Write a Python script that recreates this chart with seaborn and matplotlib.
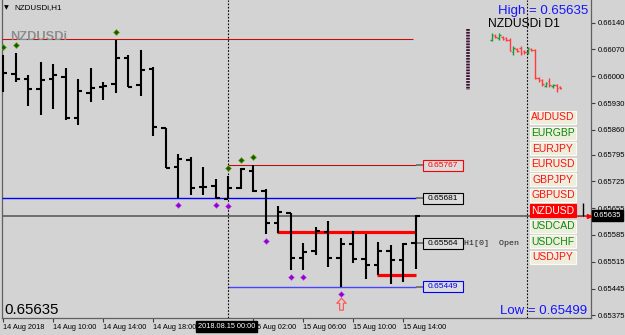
import numpy as np
import matplotlib
matplotlib.use("Agg")
import matplotlib.pyplot as plt
import seaborn as sns
from matplotlib.patches import Rectangle
from matplotlib.lines import Line2D
from matplotlib.path import Path
import matplotlib.transforms as mtransforms

# ---------------- data ----------------
x_tick_bars = [0, 4, 8, 12, 20, 24, 28, 32]
x_tick_labels = ["14 Aug 2018", "14 Aug 10:00", "14 Aug 14:00", "14 Aug 18:00",
                 "15 Aug 02:00", "15 Aug 06:00", "15 Aug 10:00", "15 Aug 14:00"]
separator_bar = 18
separator_label = "2018.08.15 00:00"
y_ticks = [0.66140, 0.66070, 0.66000, 0.65930, 0.65860, 0.65795, 0.65725,
           0.65655, 0.65585, 0.65515, 0.65445, 0.65375]

opens = [0.66016, 0.66005, 0.65994, 0.65966, 0.65992, 0.65999, 0.65891, 0.65957,
         0.65973, 0.65980, 0.66047, 0.65976, 0.66018, 0.65864, 0.65762, 0.65781,
         0.65711, 0.65714, 0.65680, 0.65707, 0.65753, 0.65701, 0.65616, 0.65643,
         0.65526, 0.65544, 0.65592, 0.65526, 0.65561, 0.65522, 0.65506, 0.65543,
         0.65520, 0.65564]
highs = [0.66056, 0.66062, 0.66003, 0.66038, 0.66031, 0.66021, 0.65992, 0.66021,
         0.65986, 0.66095, 0.66056, 0.66069, 0.66025, 0.65866, 0.65797, 0.65788,
         0.65762, 0.65731, 0.65740, 0.65759, 0.65767, 0.65704, 0.65661, 0.65643,
         0.65565, 0.65607, 0.65622, 0.65576, 0.65596, 0.65587, 0.65567, 0.65559,
         0.65563, 0.65637]
lows = [0.65960, 0.65986, 0.65922, 0.65899, 0.65914, 0.65886, 0.65873, 0.65933,
        0.65938, 0.65957, 0.65973, 0.65948, 0.65844, 0.65759, 0.65681, 0.65690,
        0.65690, 0.65681, 0.65680, 0.65705, 0.65698, 0.65588, 0.65591, 0.65493,
        0.65493, 0.65533, 0.65501, 0.65449, 0.65511, 0.65469, 0.65480, 0.65456,
        0.65463, 0.65495]
closes = [0.66009, 0.65994, 0.65967, 0.65990, 0.66003, 0.65890, 0.65961, 0.65968,
          0.65975, 0.66047, 0.65973, 0.66016, 0.65867, 0.65759, 0.65784, 0.65709,
          0.65711, 0.65681, 0.65707, 0.65758, 0.65700, 0.65616, 0.65646, 0.65526,
          0.65541, 0.65595, 0.65526, 0.65561, 0.65522, 0.65506, 0.65543, 0.65520,
          0.65561, 0.65635]

fractal_up_bars = [0, 1, 9, 18, 19, 20]
fractal_down_bars = [14, 17, 18, 21, 23, 24, 27]
arrow_bar = 27

top_level = 0.66097
day_high = 0.65767
prev_low = 0.65681
current_price = 0.65635
h1_open = 0.65564
day_low = 0.65449
zone_upper = 0.65593
zone_lower = 0.65480
zone_upper_start = 22
zone_lower_start = 30

high_text = "High = 0.65635"
low_text = "Low = 0.65499"
d1_title = "NZDUSDi D1"

pairs = ["AUDUSD", "EURGBP", "EURJPY", "EURUSD", "GBPJPY", "GBPUSD",
         "NZDUSD", "USDCAD", "USDCHF", "USDJPY"]
pair_dir = ["down", "up", "down", "down", "down", "down", "active", "up", "up", "down"]

mini_open = [0.66095, 0.66105, 0.66100, 0.66103, 0.66100, 0.66095, 0.66063, 0.66071,
             0.66074, 0.66066, 0.66063, 0.66071, 0.66069, 0.65995, 0.65990, 0.65975,
             0.65988, 0.65975, 0.65977, 0.65972]
mini_close = [0.66108, 0.66103, 0.66108, 0.66097, 0.66095, 0.66066, 0.66074, 0.66066,
              0.66061, 0.66063, 0.66074, 0.66069, 0.65995, 0.65990, 0.65980, 0.65982,
              0.65977, 0.65977, 0.65969, 0.65969]
mini_high = [0.66113, 0.66110, 0.66113, 0.66105, 0.66103, 0.66100, 0.66079, 0.66074,
             0.66079, 0.66069, 0.66076, 0.66074, 0.66071, 0.65998, 0.65993, 0.65985,
             0.65995, 0.65980, 0.65980, 0.65975]
mini_low = [0.66092, 0.66100, 0.66095, 0.66095, 0.66092, 0.66066, 0.66056, 0.66063,
            0.66056, 0.66058, 0.66058, 0.66066, 0.65993, 0.65985, 0.65975, 0.65972,
            0.65972, 0.65969, 0.65959, 0.65967]

# ---------------- style ----------------
sns.set_style("white")
plt.rcParams['font.family'] = ['Liberation Sans', 'DejaVu Sans']
BG = '#d3d3d3'
W, H = 625, 335
PX = 2.6145e-5          # price per pixel
BAR_PX = 12.5           # pixels per bar

fig = plt.figure(figsize=(6.25, 3.35), dpi=100)
fig.patch.set_facecolor(BG)


def fx(px):
    return px / W


def fy(py):
    return 1 - py / H


ax = fig.add_axes([fx(2), fy(318), fx(591) - fx(2), fy(0) - fy(318)])
ax.set_facecolor(BG)
ax.set_xlim(-0.08, -0.08 + 589 / BAR_PX)
ax.set_ylim(0.66140 - (318 - 22.7) * PX, 0.66140 + 22.7 * PX)

# OHLC bars
idx = np.arange(len(opens))
tick = 0.34
ax.vlines(idx, lows, highs, color='black', lw=1.5, capstyle='butt', zorder=5)
ax.hlines(opens, idx - tick, idx, color='black', lw=1.5, capstyle='butt', zorder=5)
ax.hlines(closes, idx, idx + tick, color='black', lw=1.5, capstyle='butt', zorder=5)

last = len(opens) - 1
xmin = ax.get_xlim()[0]
xmax = ax.get_xlim()[1]

# horizontal levels
ax.hlines(top_level, xmin, last - 0.2, color='#bfeff0', lw=2.4, zorder=2)
ax.hlines(top_level, xmin, last - 0.2, color='#e00000', lw=0.9, zorder=3)
ax.hlines(day_high, separator_bar, last, color='#bfeff0', lw=2.4, zorder=2)
ax.hlines(day_high, separator_bar, last, color='#e00000', lw=0.9, zorder=3)
ax.hlines(prev_low, xmin, last, color='#0000ff', lw=1.0, zorder=3)
ax.hlines(day_low, separator_bar, last, color='#4646ff', lw=1.0, zorder=3)
ax.hlines(current_price, xmin, xmax, color='#6e6e6e', lw=1.4, zorder=2)
ax.hlines(zone_upper, zone_upper_start - 0.05, last, color='#ff0000', lw=2.3, zorder=4)
ax.hlines(zone_lower, zone_lower_start - 0.1, last, color='#ff0000', lw=2.3, zorder=4)

# label boxes
box_x0 = last + 0.6
box_w = 3.2
hh = 5.5 * PX
for lvl, col in [(day_high, '#ff0000'), (prev_low, '#000000'),
                 (h1_open, '#000000'), (day_low, '#0000ff')]:
    ax.hlines(lvl, last, box_x0, color='#707070', lw=1.3, zorder=3)
    ax.add_patch(Rectangle((box_x0, lvl - hh), box_w, 2 * hh, facecolor='#dcdcdc',
                           edgecolor=col, lw=0.8, zorder=6))
    ax.text(box_x0 + box_w / 2, lvl, f"{lvl:.5f}", ha='center', va='center',
            fontsize=6, color=col, zorder=7)
ax.text(box_x0 + box_w + 0.05, h1_open, "H1[0]  Open", ha='left', va='center',
        fontsize=6, family='Liberation Mono', color='#202020', zorder=7)

# fractals
up_y = [highs[i] + 8 * PX for i in fractal_up_bars]
dn_y = [lows[i] - 7 * PX for i in fractal_down_bars]
sns.scatterplot(x=fractal_up_bars, y=up_y, marker='D', s=9, color='#006400',
                edgecolor='#9a9a20', linewidth=0.5, ax=ax, zorder=8)
sns.scatterplot(x=fractal_down_bars, y=dn_y, marker='D', s=9, color='#9400d3',
                edgecolor='#c060f0', linewidth=0.4, ax=ax, zorder=8)
up_arrow = Path([(0, 1), (-0.75, 0.2), (-0.3, 0.2), (-0.3, -0.9), (0.3, -0.9),
                 (0.3, 0.2), (0.75, 0.2), (0, 1)],
                [Path.MOVETO] + [Path.LINETO] * 6 + [Path.CLOSEPOLY])
ax.plot([arrow_bar], [lows[arrow_bar] - 17 * PX], marker=up_arrow, ms=9,
        markerfacecolor='none', markeredgecolor='#ff5a5a', markeredgewidth=0.9,
        zorder=8)

# separators
ax.axvline(separator_bar, color='black', lw=0.8, ls=(0, (1.5, 1.5)), zorder=4)
ax.axvline((527 - 3) / BAR_PX, color='black', lw=0.8, ls=(0, (1.5, 1.5)), zorder=4)

# current price arrow and last tick
x_arrow0 = (565 - 3) / BAR_PX
x_arrow1 = (589 - 3) / BAR_PX
ax.plot([x_arrow0, x_arrow1], [current_price, current_price], color='red', lw=0.9,
        ls=(0, (1, 1)), zorder=6)
ax.plot([x_arrow1], [current_price], marker='>', ms=3, color='red', zorder=6)
ax.vlines((583 - 3) / BAR_PX, current_price, current_price + 13 * PX,
          color='black', lw=1.0, zorder=6)

# axes styling
ax.spines['top'].set_visible(False)
for s in ['left', 'bottom', 'right']:
    ax.spines[s].set_color('#606060')
    ax.spines[s].set_linewidth(0.9)
ax.yaxis.tick_right()
ax.set_yticks(y_ticks)
ax.set_yticklabels([f"{v:.5f}" for v in y_ticks])
ax.tick_params(axis='y', right=True, length=3, width=0.8, color='#404040',
               labelsize=5.5, pad=2, labelcolor='black')
ax.set_xticks(x_tick_bars)
ax.set_xticklabels(x_tick_labels)
for lab in ax.get_xticklabels():
    lab.set_horizontalalignment('left')
ax.tick_params(axis='x', bottom=True, length=3, width=0.8, color='#404040',
               labelsize=5.3, pad=1.5, labelcolor='black')
ax.set_xlabel("")
ax.set_ylabel("")

blend_x = mtransforms.blended_transform_factory(ax.transData, ax.transAxes)
ax.text(separator_bar - 0.1, -0.026, separator_label, transform=blend_x, ha='center',
        va='center', fontsize=5.3, color='white', zorder=10, clip_on=False,
        bbox=dict(boxstyle='square,pad=0.25', facecolor='black', edgecolor='black'))
blend_y = mtransforms.blended_transform_factory(ax.transAxes, ax.transData)
ax.text(1 + 3 / 589, current_price, f"{current_price:.5f}", transform=blend_y,
        ha='left', va='center', fontsize=5.5, color='white', zorder=10, clip_on=False,
        bbox=dict(boxstyle='square,pad=0.25', facecolor='black', edgecolor='black'))

# mini D1 chart
ax2 = fig.add_axes([fx(490), fy(93), fx(562) - fx(490), fy(30) - fy(93)])
ax2.set_xlim(-0.5, len(mini_open) - 0.5)
ax2.set_ylim(0.66140 - (93 - 22.7) * PX, 0.66140 - (30 - 22.7) * PX)
ax2.axis('off')
ax2.patch.set_alpha(0)
mi = np.arange(len(mini_open))
mcol = ['#1a9a3a' if c > o else '#ff3b3b' for o, c in zip(mini_open, mini_close)]
ax2.vlines(mi, mini_low, mini_high, colors=mcol, lw=1.0)
ax2.hlines(mini_open, mi - 0.45, mi, colors=mcol, lw=1.0)
ax2.hlines(mini_close, mi, mi + 0.45, colors=mcol, lw=1.0)

# ruler-like dashed bar
fig.add_artist(Line2D([fx(468), fx(468)], [fy(29), fy(90)], lw=2.6,
                      color='#3a1030', ls=(0, (0.5, 0.3))))

# pair buttons
for i, (name, d) in enumerate(zip(pairs, pair_dir)):
    yc = 117.5 + 15.55 * i
    face = '#ff0000' if d == 'active' else '#eeeedd'
    edge = '#ff0000' if d == 'active' else '#fbfbf4'
    tcol = 'white' if d == 'active' else ('#0a8a0a' if d == 'up' else '#ff1010')
    fig.add_artist(Rectangle((fx(530), fy(yc + 6.5)), 46 / W, 13 / H,
                             transform=fig.transFigure, facecolor=face,
                             edgecolor=edge, lw=0.8, zorder=9))
    fig.text(fx(553), fy(yc), name, ha='center', va='center', fontsize=7.5,
             color=tcol, zorder=10)

# texts
fig.text(fx(588), fy(11), high_text, ha='right', va='center', fontsize=9.5,
         color='#1414ff', zorder=10)
fig.text(fx(524), fy(24), d1_title, ha='center', va='center', fontsize=8.7,
         color='black', zorder=10)
fig.text(fx(587), fy(311), low_text, ha='right', va='center', fontsize=9.5,
         color='#1414ff', zorder=10)
fig.text(fx(4), fy(310), f"{current_price:.5f}", ha='left', va='center',
         fontsize=10.8, color='black', zorder=10)
fig.text(fx(4), fy(8), "▼", ha='left', va='center', fontsize=4.5,
         family='DejaVu Sans', color='black')
fig.text(fx(14), fy(8), "NZDUSDi,H1", ha='left', va='center', fontsize=5.8,
         color='black')
fig.text(fx(10), fy(37), "NZDUSDi", ha='left', va='center', fontsize=9.3,
         fontweight='bold', color='#8e8e8e', zorder=1)

fig.savefig("out.png", dpi=100, facecolor=BG)
